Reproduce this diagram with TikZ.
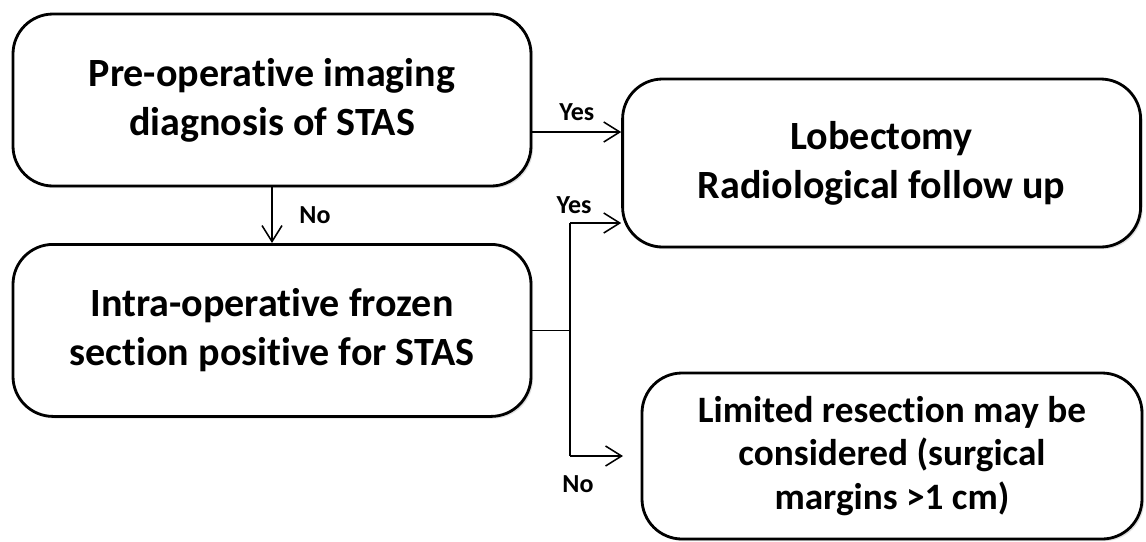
\documentclass[tikz,border=0pt]{standalone}
\usepackage{fontspec}
\setmainfont{Carlito}[RawFeature={-liga;-calt;-clig}]
\usepackage{tikz}
\usetikzlibrary{arrows.meta, positioning, calc, shadows}

\begin{document}
\begin{tikzpicture}[
    box/.style={draw, line width=2pt, rounded corners=1cm, fill=white, align=center,
        font=\fontsize{28.5}{35}\selectfont\bfseries,
        drop shadow={opacity=0.25, shadow xshift=1.5pt, shadow yshift=-1.5pt}},
    arrow/.style={-{Straight Barb[length=4mm, width=5mm]}, line width=1.1pt},
    link/.style={line width=1.1pt},
    lbl/.style={font=\fontsize{18.5}{20}\selectfont\bfseries}
]
\useasboundingbox (0,0) rectangle (28.65,-13.525);

% Decision boxes
\node[box, minimum width=12.95cm, minimum height=4.3cm] (preop) at (6.8, -2.5) {Pre-operative imaging\\diagnosis of STAS};
\node[box, minimum width=12.95cm, minimum height=4.3cm] (frozen) at (6.8, -8.26) {Intra-operative frozen\\section positive for STAS};

% Outcomes
\node[box, minimum width=12.95cm, minimum height=4.2cm] (lobe) at (22.04, -4.075) {Lobectomy\\Radiological follow up};
\node[box, minimum width=12.5cm, minimum height=4.15cm, font=\fontsize{26.5}{31}\selectfont\bfseries] (limited) at (22.3, -11.4) {Limited resection may be\\considered (surgical\\margins >1 cm)};

% Branch points
\coordinate (yesA) at ($(preop.east)+(0,-0.8)$);
\coordinate (split) at (14.25, -8.35);
\coordinate (yesB) at (14.25, -5.575);
\coordinate (noB) at (14.25, -11.4);
\coordinate (noEnd) at (15.575, -11.4);

% Arrows
\draw[arrow] (yesA) -- (yesA -| lobe.west) node[midway, above=4pt, lbl] {Yes};
\draw[arrow] (preop.south) -- (frozen.north) node[midway, right=0.55cm, lbl] {No};
\draw[link] (frozen.east) -- (frozen.east -| split);
\draw[link] (yesB) -- (noB);
\draw[arrow] (yesB) -- (yesB -| lobe.west) node[pos=0.08, above=3pt, lbl] {Yes};
\draw[arrow] (noB) -- (noEnd) node[pos=0.15, below=10pt, lbl] {No};

\end{tikzpicture}
\end{document}
